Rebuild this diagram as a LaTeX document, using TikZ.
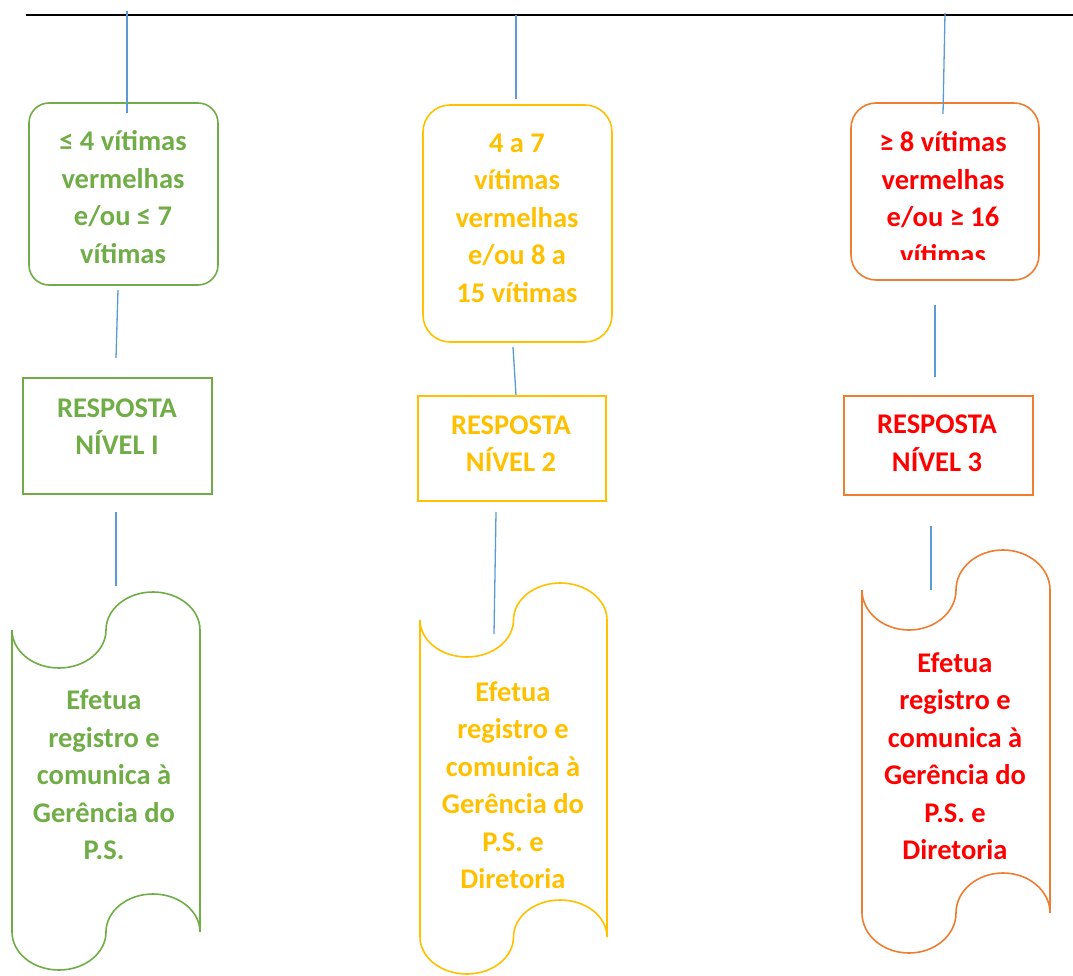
\documentclass[tikz,border=0pt]{standalone}
\usepackage{fontspec}
\setmainfont{Carlito}
\definecolor{cgreen}{HTML}{70AD47}
\definecolor{cyellow}{HTML}{FFC000}
\definecolor{corange}{HTML}{ED7D31}
\definecolor{cred}{HTML}{FF0000}
\definecolor{cblue}{HTML}{5B9BD5}
\newcommand{\drawscroll}[6]{%
  \pgfmathsetmacro\scrR{(#3-#2)/4}%
  \pgfmathsetmacro\scrK{0.5523*\scrR}%
  \pgfmathsetmacro\scrA{0.5523*#6}%
  \draw[#1] (#2,#4)
    .. controls (#2,{#4+\scrA}) and ({#2+\scrR-\scrK},{#4+#6}) .. ({#2+\scrR},{#4+#6})
    .. controls ({#2+\scrR+\scrK},{#4+#6}) and ({#2+2*\scrR},{#4+\scrA}) .. ({#2+2*\scrR},#4)
    .. controls ({#2+2*\scrR},{#4-\scrA}) and ({#2+3*\scrR-\scrK},{#4-#6}) .. ({#2+3*\scrR},{#4-#6})
    .. controls ({#2+3*\scrR+\scrK},{#4-#6}) and (#3,{#4-\scrA}) .. (#3,#4)
    -- (#3,#5)
    .. controls (#3,{#5-\scrA}) and ({#2+3*\scrR+\scrK},{#5-#6}) .. ({#2+3*\scrR},{#5-#6})
    .. controls ({#2+3*\scrR-\scrK},{#5-#6}) and ({#2+2*\scrR},{#5-\scrA}) .. ({#2+2*\scrR},#5)
    .. controls ({#2+2*\scrR},{#5+\scrA}) and ({#2+\scrR+\scrK},{#5+#6}) .. ({#2+\scrR},{#5+#6})
    .. controls ({#2+\scrR-\scrK},{#5+#6}) and (#2,{#5+\scrA}) .. (#2,#5)
    -- cycle;}
\begin{document}
\begin{tikzpicture}[x=1pt,y=-1pt,
  txt/.style={font=\fontsize{28.5}{37.5}\selectfont\bfseries, align=center, inner sep=0pt},
  shapebox/.style={line width=1.6pt, inner sep=0pt},
  conn/.style={draw=cblue, line width=1.3pt},
  scrollbox/.style={line width=1.6pt}]
\useasboundingbox (0,0) rectangle (1073,976);
% top line
\coordinate (topL) at (26,15);
\coordinate (topR) at (1073,15);
\draw[line width=1.8pt] (topL) -- (topR);
% ---------- green column
\node[shapebox, draw=cgreen, rounded corners=20pt, minimum width=189pt, minimum height=182pt] (g1) at (123.5,194) {};
\node[txt, text=cgreen] (g1t) at (123,197) {≤ 4 vítimas\\vermelhas\\e/ou ≤ 7\\vítimas};
\node[shapebox, draw=cgreen, minimum width=189pt, minimum height=116pt] (g2) at (117.5,436) {};
\node[txt, text=cgreen] (g2t) at (117,426.5) {RESPOSTA\\NÍVEL I};
\drawscroll{scrollbox, draw=cgreen}{12}{200}{630}{932}{38}
\node[txt, text=cgreen] (g3t) at (104,775) {Efetua\\registro e\\comunica à\\Gerência do\\P.S.};
% ---------- yellow column
\node[shapebox, draw=cyellow, rounded corners=27pt, minimum width=189pt, minimum height=237pt] (y1) at (517.5,223.5) {};
\node[txt, text=cyellow] (y1t) at (517,218) {4 a 7\\vítimas\\vermelhas\\e/ou 8 a\\15 vítimas};
\node[shapebox, draw=cyellow, minimum width=188pt, minimum height=105pt] (y2) at (512,448.5) {};
\node[txt, text=cyellow] (y2t) at (511,443.5) {RESPOSTA\\NÍVEL 2};
\drawscroll{scrollbox, draw=cyellow}{420}{607}{620}{937}{37}
\node[txt, text=cyellow] (y3t) at (513,785) {Efetua\\registro e\\comunica à\\Gerência do\\P.S. e\\Diretoria};
% ---------- red column
\node[shapebox, draw=corange, rounded corners=25pt, minimum width=188pt, minimum height=177pt] (r1) at (945,191.5) {};
\begin{scope}
\clip (851,103) rectangle (1039,260);
\node[txt, text=cred] (r1t) at (943,198) {≥ 8 vítimas\\vermelhas\\e/ou ≥ 16\\vítimas};
\end{scope}
\node[shapebox, draw=corange, minimum width=189pt, minimum height=99pt] (r2) at (938.5,445.5) {};
\node[txt, text=cred] (r2t) at (937,443.5) {RESPOSTA\\NÍVEL 3};
\drawscroll{scrollbox, draw=corange}{862}{1050}{590}{913}{40}
\node[txt, text=cred] (r3t) at (955,756) {Efetua\\registro e\\comunica à\\Gerência do\\P.S. e\\Diretoria};
% ---------- connectors
\coordinate (ga) at (127,11);  \coordinate (gb) at (127,113);
\coordinate (gc) at (118,290); \coordinate (gd) at (116,358);
\coordinate (ge) at (116,512); \coordinate (gf) at (116,586);
\coordinate (ya) at (516,15);  \coordinate (yb) at (516,99);
\coordinate (yc) at (513,347); \coordinate (yd) at (516,395);
\coordinate (ye) at (496,512); \coordinate (yf) at (494,634);
\coordinate (ra) at (945,13);  \coordinate (rb) at (943,114);
\coordinate (rc) at (935,305); \coordinate (rd) at (935,377);
\coordinate (re) at (931,526); \coordinate (rf) at (931,590);
\draw[conn] (ga) -- (gb);
\draw[conn] (gc) -- (gd);
\draw[conn] (ge) -- (gf);
\draw[conn] (ya) -- (yb);
\draw[conn] (yc) -- (yd);
\draw[conn] (ye) -- (yf);
\draw[conn] (ra) -- (rb);
\draw[conn] (rc) -- (rd);
\draw[conn] (re) -- (rf);
\end{tikzpicture}
\end{document}
